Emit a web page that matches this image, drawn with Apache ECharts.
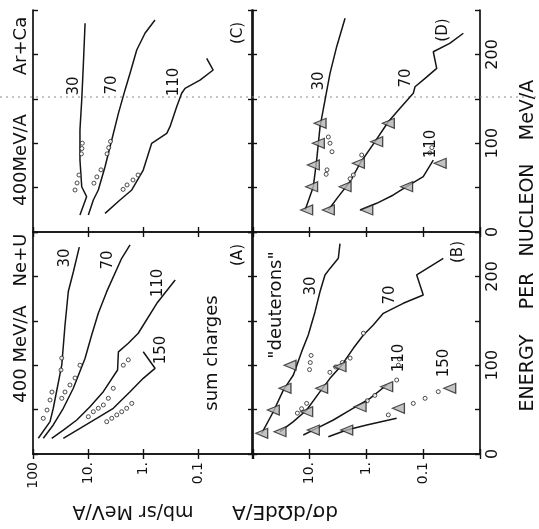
<!DOCTYPE html>
<html><head><meta charset="utf-8">
<script src="https://cdn.jsdelivr.net/npm/echarts@6/dist/echarts.min.js"></script>
<style>html,body{margin:0;padding:0;background:#fff}#c{width:539px;height:529px}</style>
</head><body><div id="c"></div>
<script>
// Points are [energy per nucleon (MeV/A), dσ/dΩdE/A (mb/sr MeV/A)]
// Panel A: 400 MeV/A Ne+U, sum charges
const A_30  = [[17.7,80],[36.4,49],[51.5,42.8],[100,30],[145,26.2],[183,22.8],[205,18.5],[233,14.4]];
const A_70  = [[17.7,65],[32.7,42.8],[51.5,28.1],[74,18.5],[107.8,11.3],[134,8.57],[158.4,6.5],[182.8,4.57],[220.4,2.44],[235.4,1.72]];
const A_110 = [[17.7,45.7],[27,28.1],[38.3,16],[53.3,9.2],[70.2,5.27],[94.6,2.9],[115,2.8],[124.7,1.85],[136,1.22],[169.7,0.56],[196,0.26]];
const A_150 = [[17.7,28.1],[28.9,14],[40.2,6.95],[51.5,3.47],[70.2,1.72],[85.2,0.99],[96.5,0.605],[115.2,0.99]];
const A_dots = [[40.2,65],[49.5,55.6],[60.8,49],[69.8,45.2],[94.6,31],[108,30],
  [62.7,30],[69.8,26.2],[77.7,21.3],[85.6,17.2],[100,14],
  [42,9.86],[47.6,8],[51.5,6.5],[55.2,5.26],[62.7,4.27],[74,3.47],[100,2.28],[106,1.85],
  [36.4,4.57],[40.2,3.7],[44,3.0],[47.6,2.44],[51.5,1.98],[57,1.6]];
// Panel B: 400 MeV/A Ne+U, "deuterons"
const B_30  = [[23.3,67.6],[47.6,42.3],[72,28.2],[89,18.8],[115,13.5],[134,10.3],[160,7.85],[183,6.4],[201.6,5.24],[209,4.28],[220.4,3.06],[237,2.86]];
const B_70  = [[25.1,32.3],[36.4,18.8],[49.5,11],[70.2,6.4],[85.2,4.28],[100,2.67],[119,1.67],[134,1.11],[145.3,0.745],[158.4,0.497],[169.7,0.222],[179,0.099],[201.6,0.129],[220.4,0.044]];
const B_110 = [[21.4,12.6],[28.9,7.34],[38.3,3.74],[49.5,1.91],[62.7,0.85],[77.7,0.434]];
const B_150 = [[19.5,4.58],[27,2.18],[32.7,0.97],[40.2,0.29]];
const B_tri = [[23.3,67.6],[49.5,42.3],[74,26.4],[100,21.5],
  [25.1,32.3],[47.6,11],[74,6],[98.3,2.86],
  [27,8.4],[53.3,1.27],[75.8,0.434],
  [27,2.18],[51.5,0.27],[74,0.034]];
const B_dots = [[95,9.8],[103,9.5],[111,9.2],[46,16],[51,13.5],[57,11],
  [92,4.3],[98,3.4],[103,2.6],[108,1.9],[136,1.11],[60,0.95],[66,0.7],[83.3,0.29],
  [44,0.406],[57,0.148],[62.7,0.092],[70.2,0.054],[100,0.27],[107,0.26]];
// Panel C: 400 MeV/A Ar+Ca
const C_30  = [[19.1,14],[39.8,10.6],[51,13],[81,14],[115,14],[148.6,13],[186,12.2],[235,11.3]];
const C_70  = [[19.1,9.86],[36,8],[47.3,6.5],[73.5,4.9],[103.6,3.7],[133.6,2.8],[160,2.12],[178.7,1.72],[205,1.3],[223.8,0.92],[238.7,0.605]];
const C_110 = [[21,4.9],[36,2.62],[47.3,1.6],[69.8,0.99],[99.9,0.695],[111,0.37],[118.6,0.323],[141,0.244],[156.2,0.198],[161.8,0.172],[171,0.092],[182.4,0.053],[195.6,0.0695]];
const C_dots = [[47.3,17.2],[55.2,15.8],[64.2,14.6],[88,13.2],[94,12.9],[100,12.7],
  [55,7.8],[62,6.9],[70,5.8],[88,4.5],[95,4.2],[102,3.9],
  [48,2.3],[53,1.95],[58.6,1.52],[64.2,1.23]];
// Panel D: 400 MeV/A Ar+Ca, deuterons
const D_30  = [[24.8,11.7],[51,8.4],[81,7.34],[118.6,6.4],[148.6,5.24],[178.7,4.28],[208.7,3.27],[240.7,2.33]];
const D_70  = [[24.8,4.58],[39.8,3.06],[56.6,1.91],[77.4,1.27],[101.7,0.695],[124.2,0.406],[139.3,0.253],[156.2,0.148],[163.6,0.138],[173,0.092],[184.3,0.0575],[203,0.066],[212.5,0.034],[223.8,0.0196]];
const D_110 = [[24.8,1.27],[32.3,0.65],[41.7,0.331],[51,0.194],[62.3,0.099],[81,0.066]];
const D_tri = [[24.8,11],[51,9],[75.5,8.4],[99.9,6.86],[122.4,6.4],
  [24.8,4.58],[51,2.33],[77.4,1.36],[101.7,0.65],[122.4,0.406],
  [24.8,0.97],[51,0.194],[77.4,0.05]];
const D_dots = [[107,4.58],[100,4.28],[90.4,3.95],[70,4.83],[65,5.0],[86.7,1.19],[64.2,1.67],[60,1.9],[89,0.076],[95,0.07]];

// tick labels
const logTickLabelsLeft  = {'2':'100','1':'10.','0':'1.','-1':'0.1','-2':''};
const logTickLabelsRight = {'2':'','1':'10.','0':'1.','-1':'0.1','-2':''};
const energyTickLabels = ['0','100','200'];

const FONT = 'DejaVu Sans';
const grids = [
  {left:33,  top:232, width:220, height:222, lower:true,  right:false}, // A
  {left:252, top:232, width:228, height:222, lower:true,  right:true},  // B
  {left:33,  top:10,  width:220, height:222, lower:false, right:false}, // C
  {left:252, top:10,  width:228, height:222, lower:false, right:true}   // D
];
const panels = [
  {curves:[A_30,A_70,A_110,A_150], tri:null, dots:A_dots},
  {curves:[B_30,B_70,B_110,B_150], tri:B_tri, dots:B_dots},
  {curves:[C_30,C_70,C_110], tri:null, dots:C_dots},
  {curves:[D_30,D_70,D_110], tri:D_tri, dots:D_dots}
];
const swap = arr => arr.map(p => [p[1], p[0]]);
const axLine = {show:true, lineStyle:{color:'#111', width:1.7}};
const axTick = {show:true, inside:true, length:5, lineStyle:{color:'#111', width:1.4}};

const xAxis = [], yAxis = [], series = [];
grids.forEach((g, i) => {
  const labels = g.right ? logTickLabelsRight : logTickLabelsLeft;
  ['bottom','top'].forEach(pos => {
    xAxis.push({type:'log', logBase:10, gridIndex:i, min:0.01, max:100, inverse:true, position:pos,
      axisLine:axLine, axisTick:axTick, splitLine:{show:false}, minorTick:{show:false},
      axisLabel:{show: pos==='bottom' && g.lower, rotate:90, margin:8, showMinLabel:true, showMaxLabel:true,
        fontFamily:FONT, fontSize:14, color:'#111',
        formatter: v => labels[String(Math.round(Math.log10(v)))] || ''}});
  });
  ['left','right'].forEach(pos => {
    yAxis.push({type:'value', gridIndex:i, min:0, max:250, interval:50, position:pos,
      axisLine:axLine, axisTick:axTick, splitLine:{show:false},
      axisLabel:{show: pos==='right' && g.right, rotate:90, margin:5, fontFamily:FONT, fontSize:16, color:'#111',
        formatter: v => (v % 100 === 0 ? energyTickLabels[v/100] || '' : '')}});
  });
  const p = panels[i];
  p.curves.forEach(c => series.push({type:'line', xAxisIndex:2*i, yAxisIndex:2*i, data:swap(c),
    showSymbol:false, symbol:'none', lineStyle:{color:'#151515', width:1.5}, silent:true, z:3}));
  if (p.dots) series.push({type:'scatter', xAxisIndex:2*i, yAxisIndex:2*i, data:swap(p.dots),
    symbol:'circle', symbolSize:4, itemStyle:{color:'#fff', borderColor:'#222', borderWidth:1}, z:4});
  if (p.tri) series.push({type:'scatter', xAxisIndex:2*i, yAxisIndex:2*i, data:swap(p.tri),
    symbol:'triangle', symbolSize:[10,12], symbolRotate:90,
    itemStyle:{color:'#b4b4b4', borderColor:'#222', borderWidth:1.2}, z:5});
});

function txt(s, x, y, size, rot) {
  return {type:'text', x:x, y:y, rotation: rot === undefined ? Math.PI/2 : rot, z:10,
    style:{text:s, font: size + 'px "' + FONT + '"', fill:'#111',
      textAlign:'center', textVerticalAlign:'middle', align:'center', verticalAlign:'middle'}};
}
const graphic = [
  {type:'line', z:1, shape:{x1:0, y1:97, x2:539, y2:97}, style:{stroke:'#8a8a8a', lineWidth:1, lineDash:[2,4]}},
  // left strip
  txt('Ar+Ca', 21, 46, 18), txt('400MeV/A', 21, 160, 18), txt('Ne+U', 21, 260, 18), txt('400 MeV/A', 21, 354, 18),
  // panel A
  txt('30', 65, 258, 15), txt('70', 108, 260, 15), txt('110', 158, 283, 15), txt('150', 161, 350, 15),
  txt('sum charges', 212, 353, 18), txt('(A)', 238, 255, 15),
  // panel B
  txt('30', 311, 286, 15), txt('70', 390, 295, 15), txt('110', 399, 358, 15), txt('150', 444, 363, 15),
  txt('"deuterons"', 276, 305, 18), txt('(B)', 458, 252, 15),
  // panel C
  txt('30', 74, 86, 15), txt('70', 112, 85, 15), txt('110', 174, 82, 15), txt('(C)', 238, 33, 15),
  // panel D
  txt('30', 319, 81, 15), txt('70', 406, 78, 15), txt('110', 431, 144, 15), txt('(D)', 443, 30, 15),
  // axis titles
  txt('ENERGY', 528, 373, 19), txt('PER', 528, 291, 19), txt('NUCLEON', 528, 210, 19), txt('MeV/A', 528, 110, 19),
  txt('mb/sr MeV/A', 133, 511, 19, Math.PI), txt('dσ/dΩdE/A', 285, 511, 20, Math.PI)
];

const chart = echarts.init(document.getElementById('c'), null, {renderer:'canvas'});
chart.setOption({
  backgroundColor:'#fff', animation:false,
  grid: grids.map(g => ({left:g.left, top:g.top, width:g.width, height:g.height, show:false, containLabel:false})),
  xAxis, yAxis, series, graphic
});
</script></body></html>
